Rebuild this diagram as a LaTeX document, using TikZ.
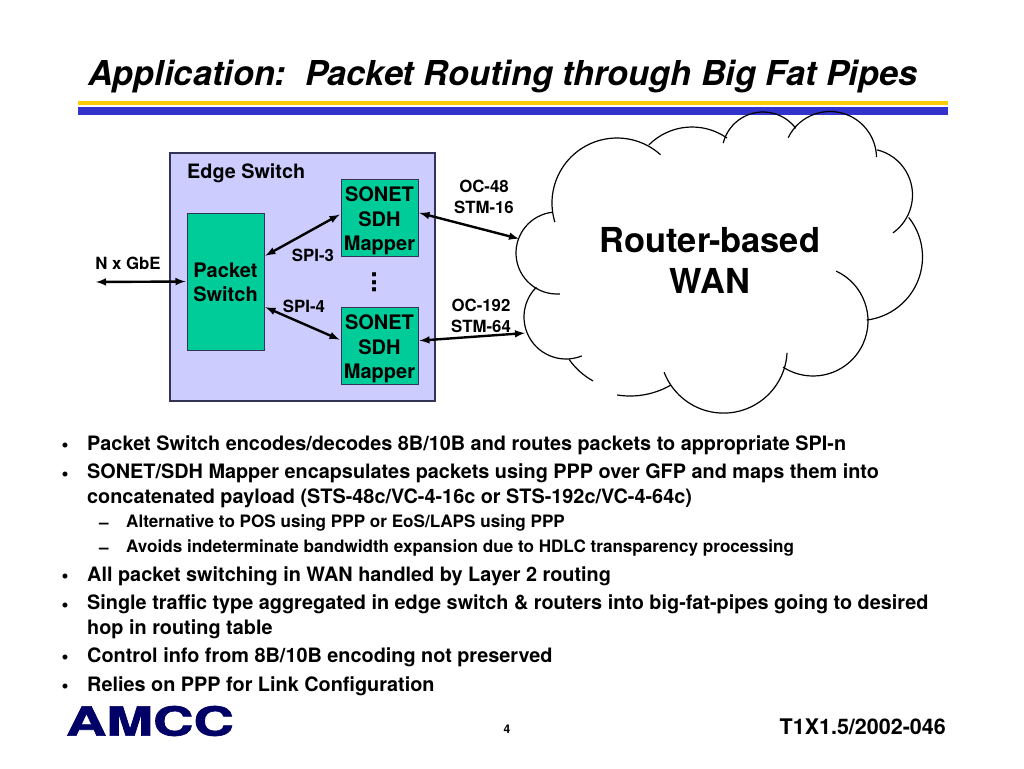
\documentclass[tikz,border=0pt]{standalone}
\usepackage{fontspec}
\setmainfont{TeX Gyre Heros}
\newfontfamily\logofont{TeX Gyre Heros}[BoldFeatures={FakeBold=1.5}]
\usetikzlibrary{arrows}
\definecolor{edgefill}{HTML}{CCCCFF}
\definecolor{edgeline}{HTML}{333355}
\definecolor{boxgreen}{HTML}{00CC99}
\definecolor{barblue}{HTML}{3333CC}
\definecolor{baryellow}{HTML}{FFCC00}
\definecolor{logoblue}{HTML}{000066}
\newcommand{\fsize}[2]{\fontsize{#1}{#2}\selectfont\bfseries}
\tikzset{
  greenbox/.style={draw=edgeline,fill=boxgreen,line width=1pt,inner sep=0pt,align=center,font=\fsize{20}{24.5}},
  mapperbox/.style={greenbox,minimum width=77pt,minimum height=77pt},
  label/.style={inner sep=0pt,align=center,font=\fsize{16.8}{20.5}},
  link/.style={<->,>=latex,line width=2.4pt,shorten <=1pt,shorten >=1pt},
  cloudline/.style={line width=1.2pt,black},
  bullet/.style={anchor=center,inner sep=0pt,font=\fsize{19.9}{24}},
  item/.style={anchor=west,inner sep=0pt,align=left,font=\fsize{19.85}{24.5}},
  subitem/.style={anchor=west,inner sep=0pt,align=left,font=\fsize{17.1}{20}},
}
\begin{document}
\begin{tikzpicture}[x=1pt,y=-1pt]
  \useasboundingbox (0,0) rectangle (1024,768);

  \node[anchor=base west,inner sep=0pt,font=\fontsize{34.3}{38}\selectfont\bfseries\itshape] (title) at (88,85) {Application:\ \ Packet Routing through Big Fat Pipes};
  \fill[baryellow] (78,101) rectangle (948,104.5);
  \fill[barblue] (78,107) rectangle (948,115);

  \node[draw=edgeline,fill=edgefill,line width=1.5pt,minimum width=265pt,minimum height=248pt] (edge) at (302.5,277) {};
  \node[label,anchor=west,font=\fsize{19.8}{22}] (edgetext) at (187,173) {Edge Switch};

  \node[greenbox,minimum width=77pt,minimum height=137pt] (packet) at (225.5,281.5) {\rule{0pt}{16.5pt}Packet\\Switch};
  \node[mapperbox] (mapper1) at (379.5,217.5) {\rule{0pt}{21.5pt}SONET\\SDH\\Mapper};
  \node[mapperbox] (mapper2) at (379.5,345.5) {\rule{0pt}{21.5pt}SONET\\SDH\\Mapper};
  \node[rotate=90,inner sep=0pt,font=\fsize{27}{30}] (dots) at (375,282.5) {...};

  \node[label] (gbetext) at (128,263) {N x GbE};
  \node[label] (spi3) at (313,255) {SPI-3};
  \node[label] (spi4) at (304,306) {SPI-4};
  \node[label] (oc48) at (484,197) {OC-48\\STM-16};
  \node[label] (oc192) at (481,316) {OC-192\\STM-64};

  \coordinate (gbe) at (95,282);
  \coordinate (wan1) at (520,239);
  \coordinate (wan2) at (526,333);

  \draw[link] (gbe) -- (packet.west);
  \draw[link] (packet.33) -- (mapper1.175);
  \draw[link] (packet.-33) -- (mapper2.172);
  \draw[link] (mapper1.7) -- (wan1);
  \draw[link] (mapper2.7) -- (wan2);

  \node[inner sep=0pt,align=center,font=\fsize{34.4}{41}] (wan) at (710,260) {Router-based\\WAN};

  \draw[cloudline] (617,203) ++(163:65) arc[start angle=163,end angle=312,radius=65];
  \draw[cloudline] (692,188) ++(225:61) arc[start angle=225,end angle=305,radius=61];
  \draw[cloudline] (763,153) ++(194:41) arc[start angle=194,end angle=323,radius=41];
  \draw[cloudline] (830,158) ++(206:46.5) arc[start angle=206,end angle=359,radius=46.5];
  \draw[cloudline] (866,195) ++(-76:46.5) arc[start angle=-76,end angle=54.5,radius=46.5];
  \draw[cloudline] (859,257) ++(-38.5:63.5) arc[start angle=-38.5,end angle=83,radius=63.5];
  \draw[cloudline] (813,321) ++(-65:55) arc[start angle=-65,end angle=123,radius=55];
  \draw[cloudline] (723.5,349.5) ++(3:63.6) arc[start angle=3,end angle=159,radius=63.6];
  \draw[cloudline] (630,314) ++(60:82) arc[start angle=60,end angle=99,radius=82];
  \draw[cloudline] (628,318) ++(119:72) arc[start angle=119,end angle=145,radius=72];
  \draw[cloudline] (566,317) ++(68:42) arc[start angle=68,end angle=225,radius=42];
  \draw[cloudline] (557,253) ++(86:41) arc[start angle=86,end angle=264,radius=41];

  \node[bullet] (dot1) at (65,447) {•};
  \node[item] (item1) at (87,445) {Packet Switch encodes/decodes 8B/10B and routes packets to appropriate SPI-n};
  \node[bullet] (dot2) at (65,476) {•};
  \node[item] (item2) at (87,486) {SONET/SDH Mapper encapsulates packets using PPP over GFP and maps them into\\concatenated payload (STS-48c/VC-4-16c or STS-192c/VC-4-64c)};
  \node[subitem] (dash1) at (99,526) {–};
  \node[subitem] (sub1) at (126,523) {Alternative to POS using PPP or EoS/LAPS using PPP};
  \node[subitem] (dash2) at (99,551) {–};
  \node[subitem] (sub2) at (126,548) {Avoids indeterminate bandwidth expansion due to HDLC transparency processing};
  \node[bullet] (dot3) at (65,578) {•};
  \node[item] (item3) at (87,576) {All packet switching in WAN handled by Layer 2 routing};
  \node[bullet] (dot4) at (65,607) {•};
  \node[item] (item4) at (87,617) {Single traffic type aggregated in edge switch \& routers into big-fat-pipes going to desired\\hop in routing table};
  \node[bullet] (dot5) at (65,659) {•};
  \node[item] (item5) at (87,657) {Control info from 8B/10B encoding not preserved};
  \node[bullet] (dot6) at (65,688) {•};
  \node[item] (item6) at (87,686) {Relies on PPP for Link Configuration};

  \node[inner sep=0pt,text=logoblue,xscale=1.4,font=\logofont\fontsize{40}{44}\selectfont\bfseries] (logo) at (150,721) {AMCC};
  \node[inner sep=0pt,font=\fsize{12}{14}] (page) at (507,729) {4};
  \node[anchor=east,inner sep=0pt,font=\fsize{21.5}{24}] (docid) at (946,727) {T1X1.5/2002-046};
\end{tikzpicture}
\end{document}
